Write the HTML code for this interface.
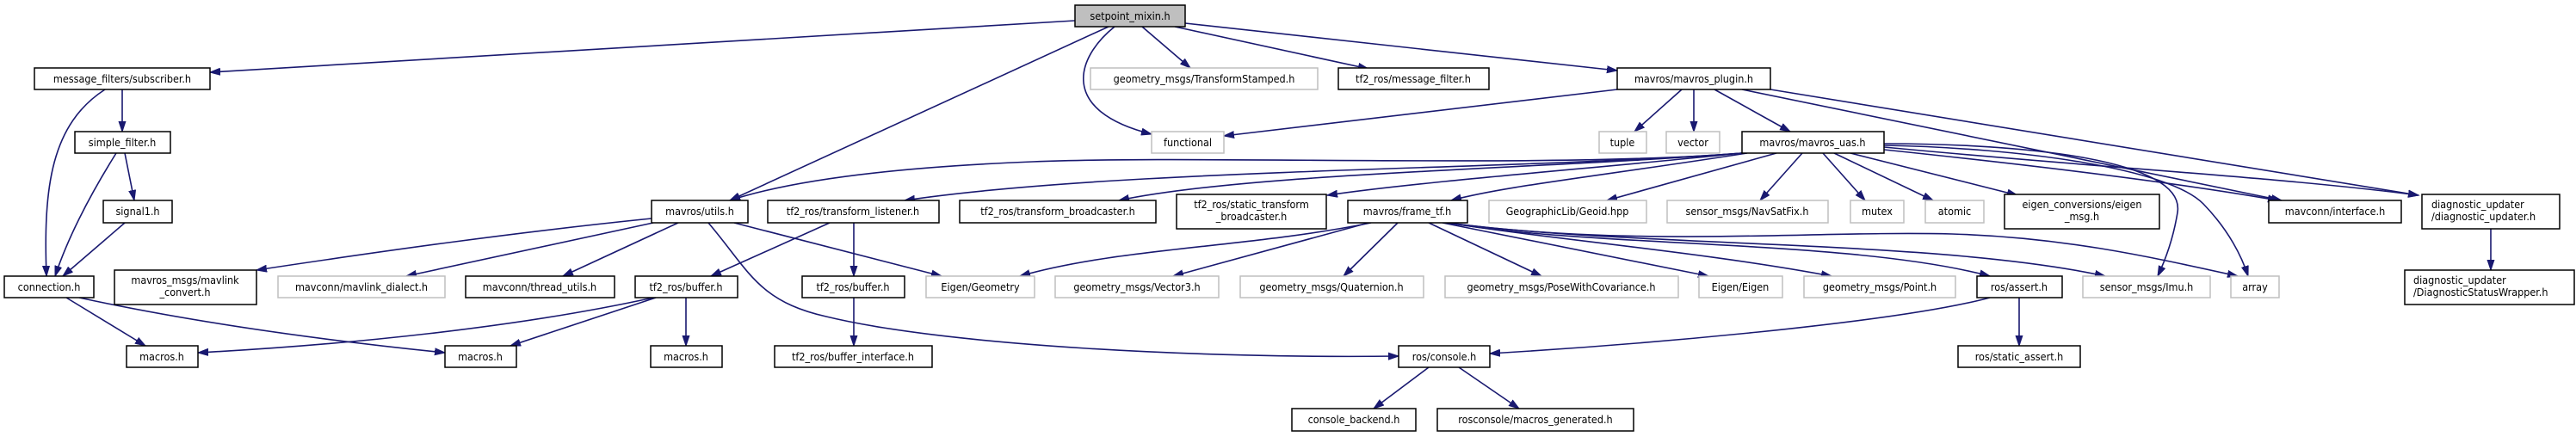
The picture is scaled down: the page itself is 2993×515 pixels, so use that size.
<!DOCTYPE html>
<html><head><meta charset="utf-8"><style>
html,body{margin:0;padding:0;background:#fff;overflow:hidden;}
svg{display:block;}
text{font-family:"DejaVu Sans Condensed","DejaVu Sans","Liberation Sans",sans-serif;font-size:12.5px;fill:#000;}
</style></head><body>
<svg width="2993" height="515" viewBox="0 0 2993 515" xmlns="http://www.w3.org/2000/svg">
<defs>
<marker id="a" markerUnits="userSpaceOnUse" markerWidth="14" markerHeight="10" refX="12" refY="4.5" orient="auto">
<path d="M0,0.5 L12,4.5 L0,8.5 z" fill="#191970" stroke="#191970"/>
</marker>
</defs>
<g fill="none" stroke="#191970" stroke-width="1.6" marker-end="url(#a)">
<path d="M1249,24 L244,84"/>
<path d="M1288,31 L848,233"/>
<path d="M1295,31 C1250,67 1230,129 1338,156"/>
<path d="M1327,31 L1383,79"/>
<path d="M1365,31 L1590,80"/>
<path d="M1377,27 L1879,82"/>
<path d="M142,104 L142,153"/>
<path d="M122,104 C60,144 50,216 54,321"/>
<path d="M145,178 L156,233"/>
<path d="M135,178 C105,226 80,273 64,321"/>
<path d="M145,259 L73,321"/>
<path d="M77,346 L169,402"/>
<path d="M92,346 C230,376 380,396 517,410"/>
<path d="M757,254 C600,270 450,291 298,314"/>
<path d="M759,259 L472,321"/>
<path d="M788,259 L654,321"/>
<path d="M853,259 L1094,321"/>
<path d="M823,259 C870,314 880,350 960,368 C1100,402 1400,417 1625,414"/>
<path d="M964,259 L826,321"/>
<path d="M992,259 L992,321"/>
<path d="M759,346 C600,381 400,401 230,410"/>
<path d="M762,346 L593,402"/>
<path d="M797,346 L797,402"/>
<path d="M992,346 L992,402"/>
<path d="M1879,104 L1422,158"/>
<path d="M1954,104 L1899,153"/>
<path d="M1968,104 L1968,153"/>
<path d="M1992,104 L2080,153"/>
<path d="M2024,104 L2651,233"/>
<path d="M2057,104 L2810,227"/>
<path d="M2024,178 C1800,196 1400,180 1200,188 C1000,196 900,216 848,233"/>
<path d="M2024,178 C1750,198 1300,196 1051,233"/>
<path d="M2024,178 C1800,196 1450,201 1300,233"/>
<path d="M2024,178 C1850,196 1650,211 1542,227"/>
<path d="M2030,178 C1850,206 1750,216 1686,233"/>
<path d="M2064,178 L1867,233"/>
<path d="M2094,178 L2045,233"/>
<path d="M2118,178 L2167,233"/>
<path d="M2131,178 L2246,233"/>
<path d="M2150,178 L2344,227"/>
<path d="M2189,174 C2400,196 2550,216 2647,233"/>
<path d="M2189,171 C2450,196 2650,206 2810,227"/>
<path d="M2189,167 C2350,167 2540,185 2530,247 C2525,278 2515,304 2507,321"/>
<path d="M2189,169 C2350,172 2520,196 2560,237 C2590,268 2605,299 2612,321"/>
<path d="M1593,259 C1450,288 1300,288 1185,321"/>
<path d="M1590,259 L1363,321"/>
<path d="M1624,259 L1561,321"/>
<path d="M1660,259 L1791,321"/>
<path d="M1676,259 L1985,321"/>
<path d="M1682,259 C1800,278 1980,293 2128,321"/>
<path d="M1682,259 C1850,288 2150,278 2312,321"/>
<path d="M1682,259 C1900,288 2250,278 2446,321"/>
<path d="M1682,259 C1900,288 2100,268 2268,272 C2400,276 2500,299 2600,321"/>
<path d="M2312,346 C2200,376 1900,401 1731,411"/>
<path d="M2346,346 L2346,402"/>
<path d="M1660,427 L1596,475"/>
<path d="M1695,427 L1765,475"/>
<path d="M2894,266 L2894,314"/>
</g>
<g stroke-width="1.5">
<rect x="1249" y="6" width="128" height="25" fill="#bfbfbf" stroke="#000"/>
<rect x="40" y="79" width="204" height="25" fill="#fff" stroke="#000"/>
<rect x="87" y="153" width="111" height="25" fill="#fff" stroke="#000"/>
<rect x="120" y="233" width="80" height="26" fill="#fff" stroke="#000"/>
<rect x="5" y="321" width="104" height="25" fill="#fff" stroke="#000"/>
<rect x="133" y="314" width="165" height="40" fill="#fff" stroke="#000"/>
<rect x="323" y="321" width="194" height="25" fill="#fff" stroke="#bfbfbf"/>
<rect x="541" y="321" width="173" height="25" fill="#fff" stroke="#000"/>
<rect x="738" y="321" width="119" height="25" fill="#fff" stroke="#000"/>
<rect x="147" y="402" width="83" height="25" fill="#fff" stroke="#000"/>
<rect x="517" y="402" width="83" height="25" fill="#fff" stroke="#000"/>
<rect x="756" y="402" width="83" height="25" fill="#fff" stroke="#000"/>
<rect x="757" y="233" width="112" height="26" fill="#fff" stroke="#000"/>
<rect x="892" y="233" width="199" height="26" fill="#fff" stroke="#000"/>
<rect x="932" y="321" width="119" height="25" fill="#fff" stroke="#000"/>
<rect x="900" y="402" width="183" height="25" fill="#fff" stroke="#000"/>
<rect x="1267" y="79" width="264" height="25" fill="#fff" stroke="#bfbfbf"/>
<rect x="1555" y="79" width="175" height="25" fill="#fff" stroke="#000"/>
<rect x="1879" y="79" width="178" height="25" fill="#fff" stroke="#000"/>
<rect x="1338" y="153" width="84" height="25" fill="#fff" stroke="#bfbfbf"/>
<rect x="1858" y="153" width="55" height="25" fill="#fff" stroke="#bfbfbf"/>
<rect x="1936" y="153" width="62" height="25" fill="#fff" stroke="#bfbfbf"/>
<rect x="1115" y="233" width="228" height="26" fill="#fff" stroke="#000"/>
<rect x="1367" y="226" width="174" height="40" fill="#fff" stroke="#000"/>
<rect x="1566" y="233" width="139" height="26" fill="#fff" stroke="#000"/>
<rect x="1730" y="233" width="183" height="26" fill="#fff" stroke="#bfbfbf"/>
<rect x="1937" y="233" width="187" height="26" fill="#fff" stroke="#bfbfbf"/>
<rect x="1076" y="321" width="126" height="25" fill="#fff" stroke="#bfbfbf"/>
<rect x="1226" y="321" width="190" height="25" fill="#fff" stroke="#bfbfbf"/>
<rect x="1441" y="321" width="213" height="25" fill="#fff" stroke="#bfbfbf"/>
<rect x="1679" y="321" width="271" height="25" fill="#fff" stroke="#bfbfbf"/>
<rect x="1974" y="321" width="97" height="25" fill="#fff" stroke="#bfbfbf"/>
<rect x="1625" y="402" width="106" height="25" fill="#fff" stroke="#000"/>
<rect x="1501" y="475" width="144" height="26" fill="#fff" stroke="#000"/>
<rect x="1670" y="475" width="228" height="26" fill="#fff" stroke="#000"/>
<rect x="2024" y="153" width="165" height="25" fill="#fff" stroke="#000"/>
<rect x="2150" y="233" width="62" height="26" fill="#fff" stroke="#bfbfbf"/>
<rect x="2237" y="233" width="68" height="26" fill="#fff" stroke="#bfbfbf"/>
<rect x="2329" y="226" width="180" height="40" fill="#fff" stroke="#000"/>
<rect x="2636" y="233" width="154" height="26" fill="#fff" stroke="#000"/>
<rect x="2814" y="226" width="160" height="40" fill="#fff" stroke="#000"/>
<rect x="2794" y="314" width="197" height="40" fill="#fff" stroke="#000"/>
<rect x="2096" y="321" width="176" height="25" fill="#fff" stroke="#bfbfbf"/>
<rect x="2297" y="321" width="99" height="25" fill="#fff" stroke="#000"/>
<rect x="2420" y="321" width="148" height="25" fill="#fff" stroke="#bfbfbf"/>
<rect x="2592" y="321" width="56" height="25" fill="#fff" stroke="#bfbfbf"/>
<rect x="2275" y="402" width="142" height="25" fill="#fff" stroke="#000"/>
</g>
<g text-anchor="middle">
<text x="1313" y="23">setpoint_mixin.h</text>
<text x="142" y="96">message_filters/subscriber.h</text>
<text x="142" y="170">simple_filter.h</text>
<text x="160" y="250">signal1.h</text>
<text x="57" y="338">connection.h</text>
<text x="215" y="330">mavros_msgs/mavlink</text>
<text x="215" y="344">_convert.h</text>
<text x="420" y="338">mavconn/mavlink_dialect.h</text>
<text x="627" y="338">mavconn/thread_utils.h</text>
<text x="797" y="338">tf2_ros/buffer.h</text>
<text x="188" y="419">macros.h</text>
<text x="558" y="419">macros.h</text>
<text x="797" y="419">macros.h</text>
<text x="813" y="250">mavros/utils.h</text>
<text x="991" y="250">tf2_ros/transform_listener.h</text>
<text x="991" y="338">tf2_ros/buffer.h</text>
<text x="991" y="419">tf2_ros/buffer_interface.h</text>
<text x="1399" y="96">geometry_msgs/TransformStamped.h</text>
<text x="1642" y="96">tf2_ros/message_filter.h</text>
<text x="1968" y="96">mavros/mavros_plugin.h</text>
<text x="1380" y="170">functional</text>
<text x="1885" y="170">tuple</text>
<text x="1967" y="170">vector</text>
<text x="1229" y="250">tf2_ros/transform_broadcaster.h</text>
<text x="1454" y="242">tf2_ros/static_transform</text>
<text x="1454" y="256">_broadcaster.h</text>
<text x="1635" y="250">mavros/frame_tf.h</text>
<text x="1821" y="250">GeographicLib/Geoid.hpp</text>
<text x="2030" y="250">sensor_msgs/NavSatFix.h</text>
<text x="1139" y="338">Eigen/Geometry</text>
<text x="1321" y="338">geometry_msgs/Vector3.h</text>
<text x="1547" y="338">geometry_msgs/Quaternion.h</text>
<text x="1814" y="338">geometry_msgs/PoseWithCovariance.h</text>
<text x="2022" y="338">Eigen/Eigen</text>
<text x="1678" y="419">ros/console.h</text>
<text x="1573" y="492">console_backend.h</text>
<text x="1784" y="492">rosconsole/macros_generated.h</text>
<text x="2106" y="170">mavros/mavros_uas.h</text>
<text x="2181" y="250">mutex</text>
<text x="2271" y="250">atomic</text>
<text x="2419" y="242">eigen_conversions/eigen</text>
<text x="2419" y="256">_msg.h</text>
<text x="2713" y="250">mavconn/interface.h</text>
<text x="2184" y="338">geometry_msgs/Point.h</text>
<text x="2346" y="338">ros/assert.h</text>
<text x="2494" y="338">sensor_msgs/Imu.h</text>
<text x="2620" y="338">array</text>
<text x="2346" y="419">ros/static_assert.h</text>
</g>
<g text-anchor="start">
<text x="2825" y="242">diagnostic_updater</text>
<text x="2825" y="256">/diagnostic_updater.h</text>
<text x="2804" y="330">diagnostic_updater</text>
<text x="2804" y="344">/DiagnosticStatusWrapper.h</text>
</g>
</svg>
</body></html>
